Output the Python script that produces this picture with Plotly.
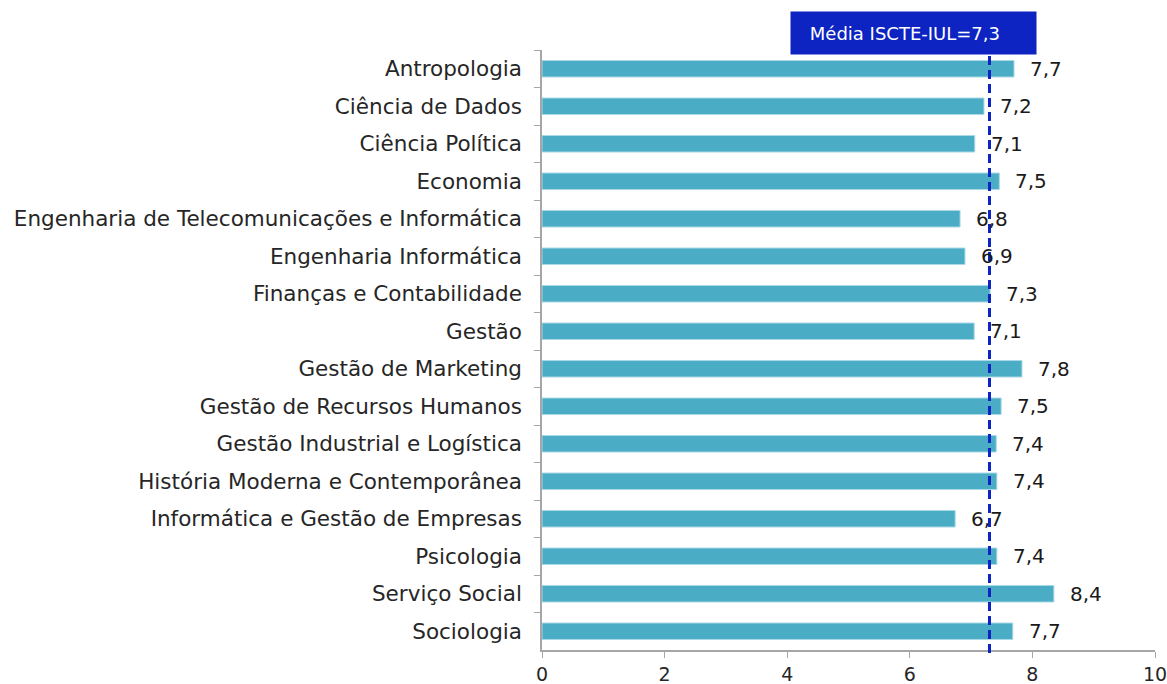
import plotly.graph_objects as go

categories = ["Antropologia", "Ciência de Dados", "Ciência Política", "Economia",
              "Engenharia de Telecomunicações e Informática", "Engenharia Informática",
              "Finanças e Contabilidade", "Gestão", "Gestão de Marketing",
              "Gestão de Recursos Humanos", "Gestão Industrial e Logística",
              "História Moderna e Contemporânea", "Informática e Gestão de Empresas",
              "Psicologia", "Serviço Social", "Sociologia"]
values = [7.7, 7.21, 7.06, 7.46, 6.82, 6.9, 7.31, 7.05, 7.83, 7.49, 7.41, 7.42, 6.74, 7.42, 8.35, 7.68]
labels = ["7,7", "7,2", "7,1", "7,5", "6,8", "6,9", "7,3", "7,1", "7,8", "7,5", "7,4", "7,4", "6,7", "7,4", "8,4", "7,7"]
mean_value = 7.3
mean_label = "Média ISCTE-IUL=7,3"
x_ticks = [0, 2, 4, 6, 8, 10]

FONT = "DejaVu Sans"

fig = go.Figure()
fig.add_trace(go.Bar(
    y=categories, x=values, orientation="h",
    marker=dict(color="#4BACC6", line=dict(color="#A9D8E6", width=1)),
    width=0.44, hoverinfo="x+y",
))

for c, v, t in zip(categories, values, labels):
    fig.add_annotation(x=v, y=c, text=t, showarrow=False, xanchor="left",
                       xshift=14, font=dict(family=FONT, size=20, color="#1a1a1a"))

fig.add_shape(type="line", x0=mean_value, x1=mean_value, xref="x", yref="paper",
              y0=-0.005, y1=0.995, line=dict(color="#0D24C2", width=3, dash="9px,5px"))

fig.add_annotation(xref="paper", yref="paper", x=0.606, y=1.028,
                   text=mean_label + "&nbsp;&nbsp;&nbsp;",
                   showarrow=False, bgcolor="#0D24C2", width=241, height=38, borderpad=2,
                   font=dict(family=FONT, size=18, color="white"), xanchor="center", yanchor="middle")

fig.update_layout(
    width=1167, height=684,
    margin=dict(l=542, r=12, t=50, b=34),
    plot_bgcolor="white", paper_bgcolor="white",
    showlegend=False,
    font=dict(family=FONT, size=19, color="#262626"),
    xaxis=dict(range=[0, 10], tickvals=x_ticks, ticks="outside", ticklen=6,
               tickcolor="#A6A6A6", showgrid=False, showline=True, linecolor="#A6A6A6",
               linewidth=1.5, zeroline=False, automargin=False, ticklabeloverflow="allow",
               tickfont=dict(size=19, color="#262626")),
    yaxis=dict(autorange="reversed", categoryorder="array", categoryarray=categories,
               ticks="outside", ticklen=6, tickcolor="#A6A6A6", tickson="boundaries",
               showline=True, linecolor="#A6A6A6", linewidth=1.5, showgrid=False,
               automargin=False, ticklabelstandoff=14,
               tickfont=dict(size=21.5, color="#262626")),
)

fig.write_html("out.html", config={"displayModeBar": False},
               post_script="document.body.style.margin='0';document.body.style.overflow='hidden';")
